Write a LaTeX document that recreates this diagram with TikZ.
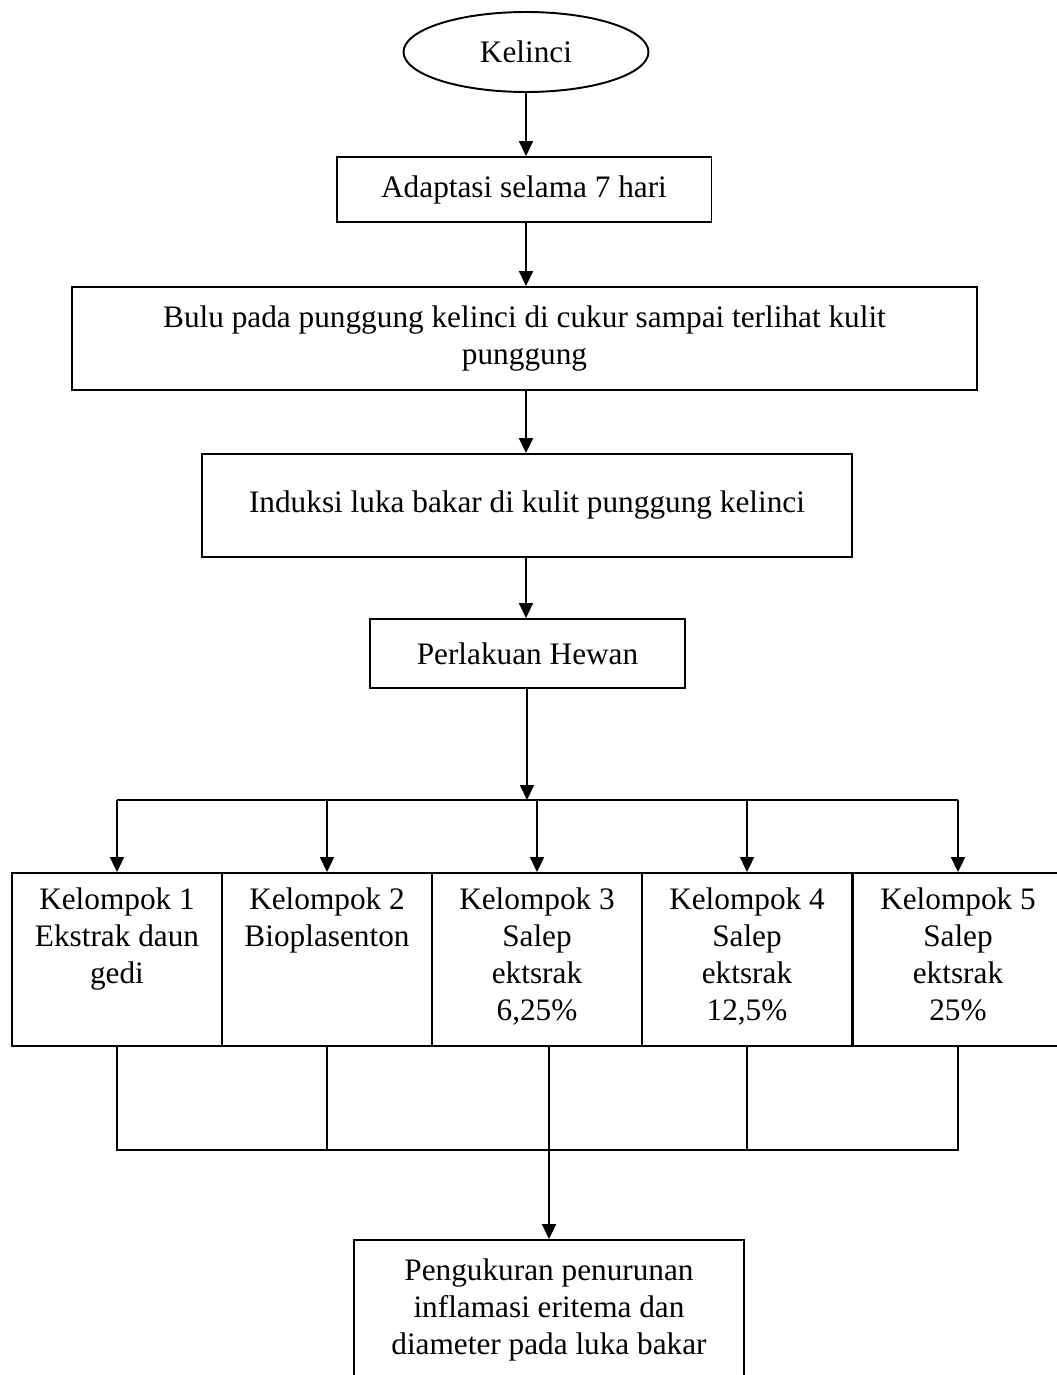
\documentclass[tikz,border=0pt]{standalone}
\usepackage{fontspec}
\setmainfont{Liberation Serif}
\usetikzlibrary{shapes.geometric,arrows.meta}
\newcommand{\kel}[1]{\parbox[c][2.86cm][t]{3.9cm}{\centering #1}}

\begin{document}
\begin{tikzpicture}[x=0.02cm,y=-0.02cm,line width=1.1pt,
    >={Triangle[length=0.3cm,width=0.28cm]},
    font=\fontsize{17.8}{21}\selectfont,
    box/.style={draw,rectangle,inner sep=0pt,align=center},
    grp/.style={draw,rectangle,inner xsep=0pt,inner ysep=0.3cm,minimum width=4.2cm}]
   \useasboundingbox (0,0) rectangle (1057,1375);
   \node[draw,ellipse,minimum width=4.9cm,minimum height=1.6cm,inner sep=0pt] (kelinci) at (526,52) {Kelinci};
   \node[box,minimum width=7.5cm,minimum height=1.3cm]   (adaptasi)  at (524,189.5) {Adaptasi selama 7 hari};
   \node[box,minimum width=18.1cm,minimum height=2.06cm] (cukur)     at (524.5,338.5) {Bulu pada punggung kelinci di cukur sampai terlihat kulit\\ punggung};
   \node[box,minimum width=13cm,minimum height=2.06cm]   (induksi)   at (527,505.5) {Induksi luka bakar di kulit punggung kelinci};
   \node[box,minimum width=6.3cm,minimum height=1.38cm]  (perlakuan) at (527.5,653.5) {Perlakuan Hewan};
   \coordinate (bagi) at (527,800);
   \node[grp] (k1) at (117,959.5) {\kel{Kelompok 1\\ Ekstrak daun\\ gedi}};
   \node[grp] (k2) at (327,959.5) {\kel{Kelompok 2\\ Bioplasenton}};
   \node[grp] (k3) at (537,959.5) {\kel{Kelompok 3\\ Salep\\ ektsrak\\ 6,25\%}};
   \node[grp] (k4) at (747,959.5) {\kel{Kelompok 4\\ Salep\\ ektsrak\\ 12,5\%}};
   \node[grp] (k5) at (958,959.5) {\kel{Kelompok 5\\ Salep\\ ektsrak\\ 25\%}};
   \node[box,minimum width=7.8cm,minimum height=2.8cm] (ukur) at (549,1310) {Pengukuran penurunan\\ inflamasi eritema dan\\ diameter pada luka bakar};
   \coordinate (kumpul) at (549,1150);
   % all the upper arrows run on one vertical, x of Kelinci
   \path[->]
     (kelinci.south)            edge (kelinci.south |- adaptasi.north)
     (adaptasi.south -| kelinci) edge (kelinci |- cukur.north)
     (cukur.south -| kelinci)    edge (kelinci |- induksi.north)
     (induksi.south -| kelinci)  edge (kelinci |- perlakuan.north)
     (perlakuan.south -| bagi)   edge (bagi);
   \draw (k1.north |- bagi) -- (k5.north |- bagi);
   \foreach \k in {k1,k2,k3,k4,k5}
     \draw[->] (\k.north |- bagi) -- (\k.north);
   \draw (k1.south) -- (k1.south |- kumpul) -- (k5.south |- kumpul) -- (k5.south);
   \foreach \k in {k2,k4}
     \draw (\k.south) -- (\k.south |- kumpul);
   \draw[->] (k3.south -| kumpul) -- (ukur.north);
  \end{tikzpicture}
\end{document}
